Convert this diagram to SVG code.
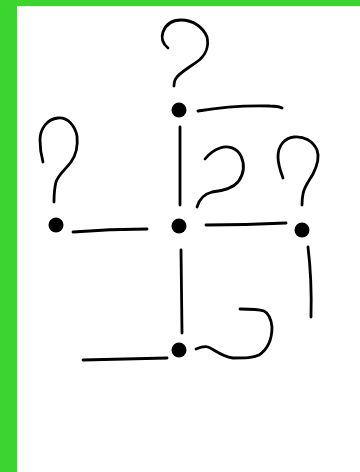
<svg xmlns="http://www.w3.org/2000/svg" width="360" height="472" viewBox="0 0 360 472">
<style>
.s{fill:none;stroke:#000;stroke-width:2.8;stroke-linecap:round;stroke-linejoin:round}
.d{fill:#000}
</style>
<rect x="0" y="0" width="360" height="472" fill="#3CD52F"/>
<rect x="17" y="6" width="343" height="466" fill="#fff"/>
<g id="connectors">
<path class="s" d="M198,111 Q233,105 270,106 Q278,106 282,108"/>
<path class="s" d="M180,127 L180,205"/>
<path class="s" d="M73,232 Q110,229 147,229"/>
<path class="s" d="M206,225 Q245,225 286,223"/>
<path class="s" d="M181,250 L182,333"/>
<path class="s" d="M308,247 Q312,280 311,317"/>
<path class="s" d="M83,360 Q127,359 167,358"/>
<path class="s" d="M196,349 C201,347 204,346 208,347 C214,349 220,356 233,358 C245,358 253,358 259,355 C268,349 272,340 272,327 C271,318 268,313 264,311 C258,309 247,309 240,309"/>
</g>
<g id="q-top"><path class="s" d="M168,48 C163,44 161,38 163,32 C166,24 173,20 181,20 C193,20 203,27 207,37 C209,46 206,55 198,61 C190,67 182,71 177,77 C174,80 174,83 174,86"/></g>
<g id="q-left"><path class="s" d="M43,162 C41,155 40,146 40,140 C40,129 47,119 58,118 C68,117 75,126 77,136 C78,145 76,155 71,162 C65,170 58,175 56,182 C54,190 54,196 54,202"/></g>
<g id="q-mid"><path class="s" d="M205,159 C209,154 214,150 220,148 C228,145 237,148 241,156 C245,165 244,174 238,182 C232,189 222,191 212,192 C204,194 199,200 197,207"/></g>
<g id="q-right"><path class="s" d="M283,178 C280,170 278,163 278,157 C278,145 285,138 294,137 C304,136 313,141 317,150 C320,158 317,166 313,174 C309,181 304,187 303,194 C302,199 302,202 302,205"/></g>
<g id="n-top"><circle class="d" cx="179" cy="110" r="7.5"/></g>
<g id="n-left"><circle class="d" cx="56" cy="225" r="7.5"/></g>
<g id="n-center"><circle class="d" cx="179" cy="226" r="7.5"/></g>
<g id="n-right"><circle class="d" cx="302" cy="230" r="7.5"/></g>
<g id="n-bottom"><circle class="d" cx="179" cy="350" r="7.5"/></g>
</svg>
